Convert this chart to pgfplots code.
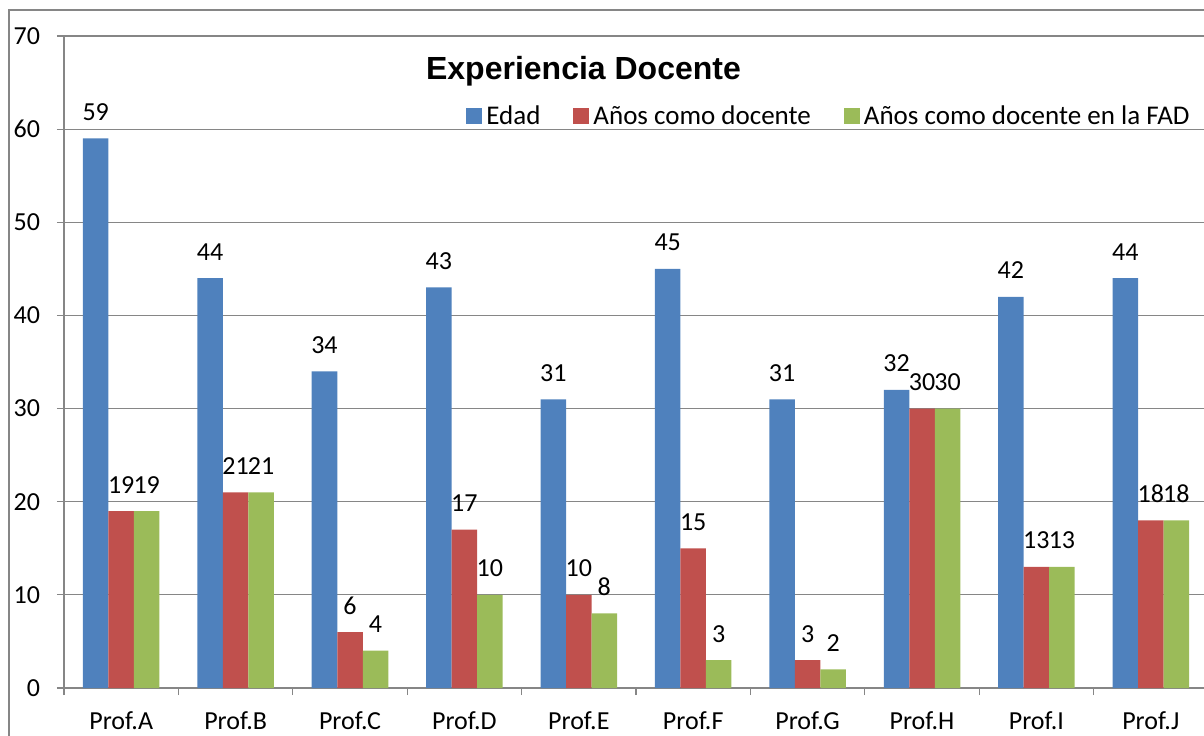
\documentclass[border=0pt]{standalone}
\usepackage{pgfplots}
\pgfplotsset{compat=1.18}
\usepackage{fontspec}
\setmainfont{Carlito}
\newfontfamily\arialfont{Liberation Sans}
\definecolor{cblue}{HTML}{4F81BD}
\definecolor{cred}{HTML}{C0504D}
\definecolor{cgreen}{HTML}{9BBB59}
\definecolor{cgrid}{HTML}{868686}
\pgfplotstableread{
x edad doc fad
0 59 19 19
1 44 21 21
2 34 6 4
3 43 17 10
4 31 10 8
5 45 15 3
6 31 3 2
7 32 30 30
8 42 13 13
9 44 18 18
}\datatable
\begin{document}
\begin{tikzpicture}
\useasboundingbox (-32pt,-23.5pt) rectangle (570pt,344pt);
\draw[cgrid, line width=0.75pt] (-27.5pt,-40pt) -- (-27.5pt,339pt) -- (600pt,339pt);
\begin{axis}[
  at={(0pt,0pt)}, anchor=south west,
  scale only axis, width=570pt, height=326pt,
  xmin=-0.5, xmax=9.465, ymin=0, ymax=70,
  ybar, bar width=0.223,
  axis lines*=left,
  axis line style={cgrid, line width=0.6pt},
  ytick={0,10,...,70},
  ymajorgrids, grid style={cgrid, line width=0.6pt},
  xtick={0,...,9},
  xticklabels={Prof.A,Prof.B,Prof.C,Prof.D,Prof.E,Prof.F,Prof.G,Prof.H,Prof.I,Prof.J},
  minor xtick={-0.5,0.5,...,9.5},
  major x tick style={draw=none},
  minor x tick style={cgrid, line width=0.6pt},
  y tick style={cgrid, line width=0.6pt},
  tick align=outside,
  major tick length=3.5pt, minor tick length=3.5pt,
  ticklabel style={font=\fontsize{13}{15}\selectfont},
  yticklabel style={xshift=-5pt},
  xticklabel style={yshift=-5pt},
  /pgf/number format/assume math mode=true,
  legend columns=3,
  legend style={at={(0.3526,0.877)}, anchor=west, draw=none, fill=none,
    inner sep=0pt, font=\fontsize{13.5}{15}\selectfont,
    /tikz/every even column/.append style={column sep=14.5pt}},
  nodes near coords,
  every node near coord/.append style={font=\fontsize{13}{15}\selectfont, anchor=base, yshift=9pt, text=black},
]
\addplot[ybar, bar shift=-0.223, fill=cblue, draw=none,
  legend image code/.code={\fill[cblue] (0pt,-4pt) rectangle (8pt,4pt);}]
  table[x=x, y=edad] {\datatable};
\addplot[ybar, bar shift=0, fill=cred, draw=none,
  legend image code/.code={\fill[cred] (0pt,-4pt) rectangle (8pt,4pt);}]
  table[x=x, y=doc] {\datatable};
\addplot[ybar, bar shift=0.223, fill=cgreen, draw=none,
  legend image code/.code={\fill[cgreen] (0pt,-4pt) rectangle (8pt,4pt);}]
  table[x=x, y=fad] {\datatable};
\legend{Edad, Años como docente, Años como docente en la FAD}
\node[font=\arialfont\bfseries\fontsize{16}{19}\selectfont, anchor=base] at (rel axis cs:0.4557,0.9333) {Experiencia Docente};
\end{axis}
\end{tikzpicture}
\end{document}
